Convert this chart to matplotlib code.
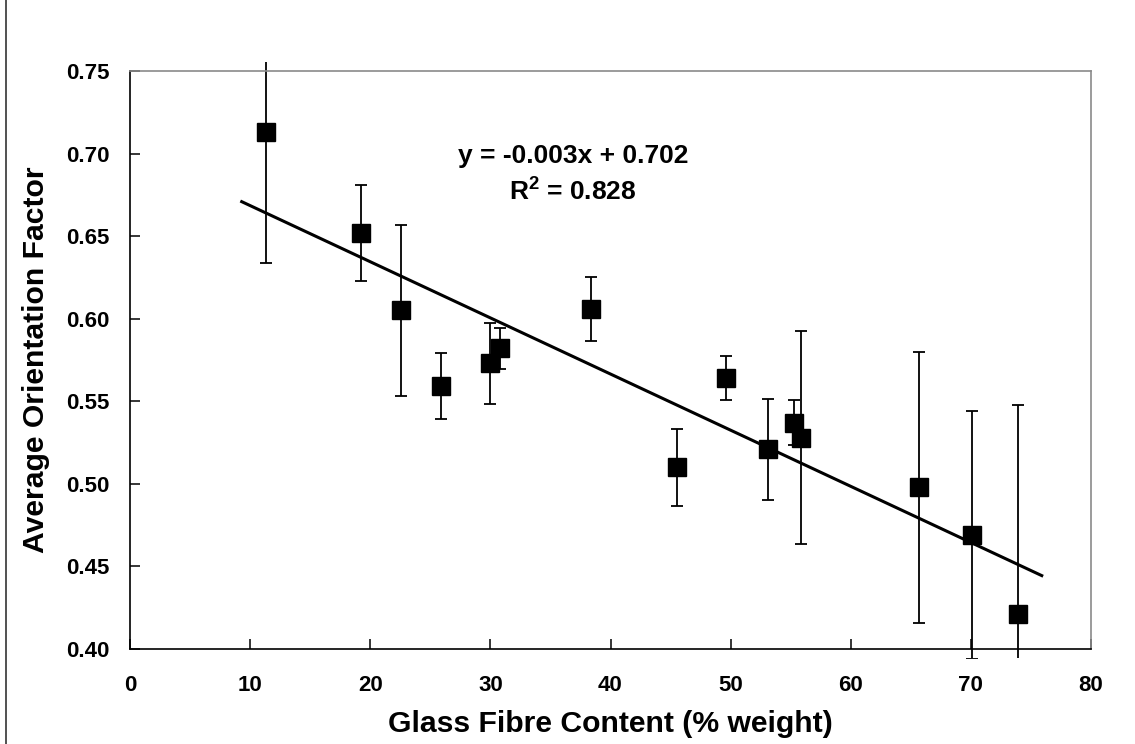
import matplotlib
matplotlib.use("Agg")
import matplotlib.pyplot as plt
import numpy as np
from matplotlib.patches import Rectangle
from matplotlib.lines import Line2D

# ---- data ----
fibre_content = [11.3, 19.2, 22.6, 25.9, 30.0, 30.8, 38.4, 45.5, 49.6, 53.1, 55.3, 55.9, 65.7, 70.1, 73.9]
orientation = [0.713, 0.652, 0.605, 0.559, 0.573, 0.582, 0.606, 0.510, 0.564, 0.521, 0.537, 0.528, 0.498, 0.469, 0.421]
orientation_err = [0.079, 0.029, 0.052, 0.020, 0.0245, 0.0125, 0.0195, 0.0235, 0.0135, 0.0305, 0.0135, 0.0645, 0.082, 0.075, 0.127]
trend_slope = -0.0034
trend_intercept = 0.7025
trend_range = [9.3, 75.9]
x_ticks = [0, 10, 20, 30, 40, 50, 60, 70, 80]
y_ticks = [0.40, 0.45, 0.50, 0.55, 0.60, 0.65, 0.70, 0.75]
eq_line1 = "y = -0.003x + 0.702"
eq_line2 = "R$^{2}$ = 0.828"

plt.rcParams['font.family'] = ['Liberation Sans', 'DejaVu Sans']
plt.rcParams['font.weight'] = 'bold'
plt.rcParams['mathtext.fontset'] = 'custom'
plt.rcParams['mathtext.rm'] = 'Liberation Sans:bold'
plt.rcParams['mathtext.it'] = 'Liberation Sans:bold'
plt.rcParams['mathtext.bf'] = 'Liberation Sans:bold'

W, H = 1135, 744
fig = plt.figure(figsize=(W / 100, H / 100), dpi=100)
ax = fig.add_axes([130 / W, 1 - 649 / H, (1091 - 130) / W, (649 - 71) / H])

# error bars + markers
eb = ax.errorbar(fibre_content, orientation, yerr=orientation_err, fmt='none',
                 ecolor='black', elinewidth=1.3, capsize=4, capthick=1.3, zorder=2)
clip_rect = Rectangle((-9 / 961, -9 / 578), 1 + 18 / 961, 1 + 18 / 578,
                      transform=ax.transAxes, facecolor='none', edgecolor='none')
for art in list(eb.lines[1]) + list(eb.lines[2]):
    art.set_clip_path(clip_rect)

ax.plot(fibre_content, orientation, linestyle='none', marker='s', markersize=13,
        color='black', zorder=4)

# trend line
tx = np.array(trend_range)
ax.plot(tx, trend_slope * tx + trend_intercept, color='black', lw=2.2, zorder=3)

ax.set_xlim(0, 80)
ax.set_ylim(0.40, 0.75)
ax.set_xticks(x_ticks)
ax.set_yticks(y_ticks)
ax.set_xticklabels([str(t) for t in x_ticks])
ax.set_yticklabels([f"{t:.2f}" for t in y_ticks])
ax.tick_params(axis='both', direction='in', length=7, width=1.1, labelsize=16,
               colors='black')
ax.tick_params(axis='x', pad=19)
ax.tick_params(axis='y', pad=14.5)
for lbl in ax.get_xticklabels() + ax.get_yticklabels():
    lbl.set_fontweight('bold')

for s in ['left', 'bottom']:
    ax.spines[s].set_color('black')
    ax.spines[s].set_linewidth(1.2)
for s in ['top', 'right']:
    ax.spines[s].set_color('#8a8a8a')
    ax.spines[s].set_linewidth(1.2)

ax.set_xlabel("Glass Fibre Content (% weight)", fontsize=21.7, fontweight='bold', labelpad=10)
ax.set_ylabel("Average Orientation Factor", fontsize=21.7, fontweight='bold', labelpad=12)

fig.text(573 / W, 1 - 156 / H, eq_line1, ha='center', va='center', fontsize=19, fontweight='bold')
fig.text(573 / W, 1 - 192 / H, eq_line2, ha='center', va='center', fontsize=19, fontweight='bold')

# left border line of the original chart frame
fig.add_artist(Line2D([6 / W, 6 / W], [0, 1], transform=fig.transFigure, color='#333333', lw=1.2))

fig.savefig("out.png", dpi=100)
